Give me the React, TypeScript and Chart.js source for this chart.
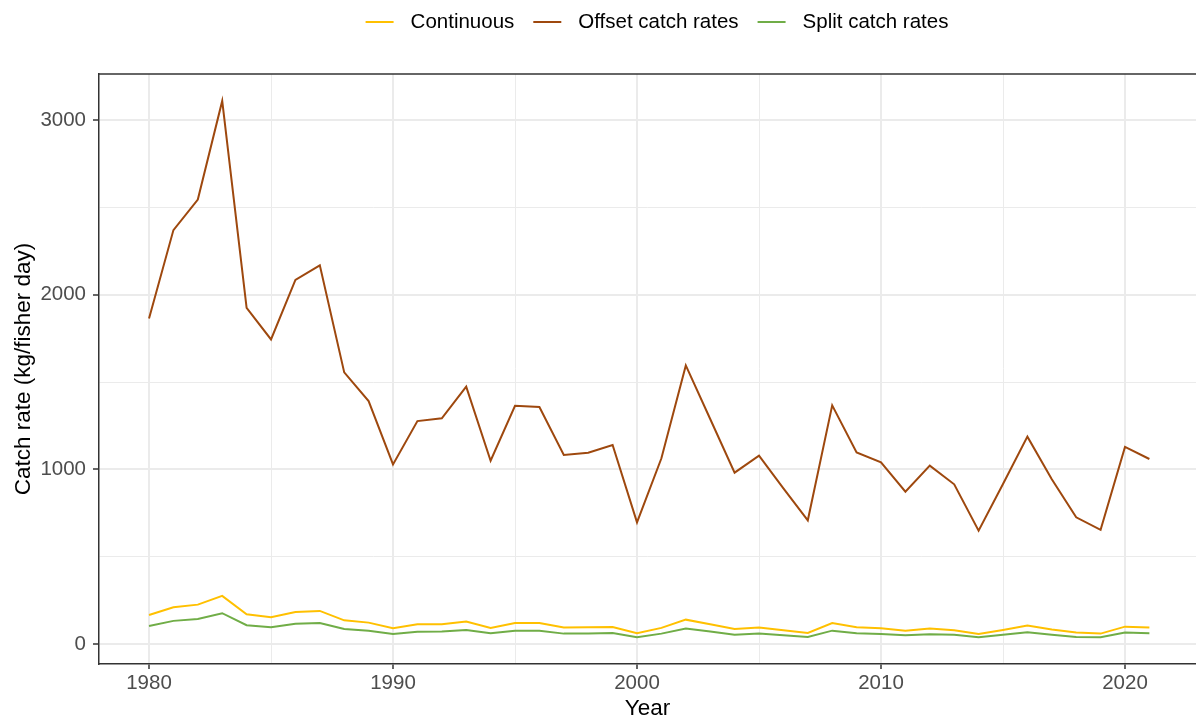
import React, { useEffect, useRef } from "react";
import { Chart, registerables } from "chart.js";

Chart.register(...registerables);

// ---- data ----
const years = [
  1980, 1981, 1982, 1983, 1984, 1985, 1986, 1987, 1988, 1989,
  1990, 1991, 1992, 1993, 1994, 1995, 1996, 1997, 1998, 1999,
  2000, 2001, 2002, 2003, 2004, 2005, 2006, 2007, 2008, 2009,
  2010, 2011, 2012, 2013, 2014, 2015, 2016, 2017, 2018, 2019,
  2020, 2021,
];

const continuous = [
  166, 210, 225, 275, 170, 153, 183, 189, 135, 122,
  90, 113, 113, 128, 91, 120, 120, 94, 95, 97,
  61, 92, 139, 113, 86, 94, 78, 63, 120, 95,
  90, 76, 88, 78, 57, 80, 105, 82, 65, 59,
  99, 94,
];

const offsetRates = [
  1864, 2370, 2545, 3110, 1925, 1744, 2085, 2168, 1555, 1391,
  1028, 1276, 1292, 1473, 1049, 1364, 1357, 1082, 1095, 1139,
  696, 1063, 1595, 1288, 981, 1078, 891, 708, 1366, 1097,
  1040, 872, 1021, 914, 649, 916, 1187, 943, 725, 653,
  1128, 1059,
];

const splitRates = [
  103, 132, 143, 176, 107, 95, 116, 120, 86, 76,
  57, 69, 71, 80, 61, 76, 76, 59, 59, 63,
  38, 59, 88, 71, 53, 59, 50, 40, 76, 61,
  57, 50, 55, 52, 38, 52, 67, 52, 40, 38,
  65, 61,
];

const seriesLabels = ["Continuous", "Offset catch rates", "Split catch rates"];
const seriesColors = ["#FFC000", "#9E480E", "#70AD47"];

const xMajorTicks = [1980, 1990, 2000, 2010, 2020];
const xMinorTicks = [1985, 1995, 2005, 2015];
const yMajorTicks = [0, 1000, 2000, 3000];
const yMinorTicks = [500, 1500, 2500];

const xTitle = "Year";
const yTitle = "Catch rate (kg/fisher day)";

const FONT = "'Liberation Sans', Arial, Helvetica, sans-serif";

export default function App() {
  const ref = useRef<HTMLCanvasElement | null>(null);

  useEffect(() => {
    const canvas = ref.current;
    if (!canvas) return;

    const legendPlugin = {
      id: "ggLegend",
      afterDraw(chart: any) {
        const ctx = chart.ctx as CanvasRenderingContext2D;
        ctx.save();
        ctx.font = `20.5px ${FONT}`;
        const items = chart.data.datasets.map((d: any) => ({
          label: d.label as string,
          color: d.borderColor as string,
        }));
        const lineW = 28;
        const gap = 17;
        const spacing = 19;
        const widths = items.map((it: any) => ctx.measureText(it.label).width);
        const total =
          widths.reduce((a: number, b: number) => a + b, 0) +
          items.length * (lineW + gap) +
          (items.length - 1) * spacing;
        let x = 657 - total / 2;
        const y = 22;
        ctx.textBaseline = "middle";
        ctx.textAlign = "left";
        items.forEach((it: any, i: number) => {
          ctx.strokeStyle = it.color;
          ctx.lineWidth = 2;
          ctx.beginPath();
          ctx.moveTo(x, y);
          ctx.lineTo(x + lineW, y);
          ctx.stroke();
          x += lineW + gap;
          ctx.fillStyle = "#000000";
          ctx.fillText(it.label, x, y);
          x += widths[i] + spacing;
        });
        ctx.restore();
      },
    };

    const topBorderPlugin = {
      id: "topBorder",
      afterDraw(chart: any) {
        const { left, right, top } = chart.chartArea;
        const ctx = chart.ctx as CanvasRenderingContext2D;
        ctx.save();
        ctx.strokeStyle = "#333333";
        ctx.lineWidth = 1.5;
        ctx.beginPath();
        ctx.moveTo(left - 0.75, top);
        ctx.lineTo(right, top);
        ctx.stroke();
        ctx.restore();
      },
    };

    const mk = (vals: number[]) => years.map((yr, i) => ({ x: yr, y: vals[i] }));
    const allSeries = [continuous, offsetRates, splitRates];

    const isMajorX = (v: number) => xMajorTicks.includes(v);
    const isMajorY = (v: number) => yMajorTicks.includes(v);

    const chart = new Chart(canvas, {
      type: "line",
      data: {
        datasets: allSeries.map((vals, i) => ({
          label: seriesLabels[i],
          data: mk(vals),
          borderColor: seriesColors[i],
          backgroundColor: seriesColors[i],
          borderWidth: 2,
          pointRadius: 0,
          tension: 0,
          fill: false,
        })),
      },
      options: {
        responsive: false,
        animation: false,
        events: [],
        devicePixelRatio: 1,
        layout: { padding: { top: 74, right: 0, left: 0, bottom: 0 } },
        plugins: {
          legend: { display: false },
          tooltip: { enabled: false },
        },
        scales: {
          x: {
            type: "linear",
            min: 1977.95,
            max: 2022.91,
            afterBuildTicks: (s: any) => {
              s.ticks = [...xMajorTicks, ...xMinorTicks]
                .sort((a, b) => a - b)
                .map((v) => ({ value: v }));
            },
            afterFit: (s: any) => {
              s.height = 56;
            },
            ticks: {
              autoSkip: false,
              maxRotation: 0,
              padding: 2,
              color: "#4D4D4D",
              font: { family: FONT, size: 20.5 },
              callback: (v: any) => (isMajorX(Number(v)) ? String(v) : ""),
            },
            grid: {
              color: "#EBEBEB",
              lineWidth: (c: any) => (c.tick && isMajorX(c.tick.value) ? 2 : 1),
              tickLength: 5,
              tickWidth: 1.5,
              tickColor: (c: any) =>
                c.tick && isMajorX(c.tick.value) ? "#333333" : "rgba(0,0,0,0)",
            },
            border: { display: true, color: "#333333", width: 1.5 },
            title: {
              display: true,
              text: xTitle,
              color: "#000000",
              font: { family: FONT, size: 22.5, lineHeight: 1 },
              padding: { top: 0, bottom: 0 },
            },
          },
          y: {
            type: "linear",
            min: -115,
            max: 3264,
            afterBuildTicks: (s: any) => {
              s.ticks = [...yMajorTicks, ...yMinorTicks]
                .sort((a, b) => a - b)
                .map((v) => ({ value: v }));
            },
            afterFit: (s: any) => {
              s.width = 99;
            },
            ticks: {
              autoSkip: false,
              padding: 7,
              color: "#4D4D4D",
              font: { family: FONT, size: 20.5 },
              callback: (v: any) => (isMajorY(Number(v)) ? String(v) : ""),
            },
            grid: {
              color: "#EBEBEB",
              lineWidth: (c: any) => (c.tick && isMajorY(c.tick.value) ? 2 : 1),
              tickLength: 6,
              tickWidth: 1.5,
              tickColor: (c: any) =>
                c.tick && isMajorY(c.tick.value) ? "#333333" : "rgba(0,0,0,0)",
            },
            border: { display: true, color: "#333333", width: 1.5 },
            title: {
              display: true,
              text: yTitle,
              color: "#000000",
              font: { family: FONT, size: 22.5, lineHeight: 1 },
              padding: { top: 12.5, bottom: 0 },
            },
          },
        },
      },
      plugins: [legendPlugin, topBorderPlugin],
    } as any);

    return () => {
      chart.destroy();
    };
  }, []);

  return (
    <div
      style={{
        position: "fixed",
        left: 0,
        top: 0,
        width: 1196,
        height: 720,
        background: "#ffffff",
        overflow: "hidden",
      }}
    >
      <canvas ref={ref} width={1196} height={720} style={{ width: 1196, height: 720, display: "block" }} />
    </div>
  );
}
